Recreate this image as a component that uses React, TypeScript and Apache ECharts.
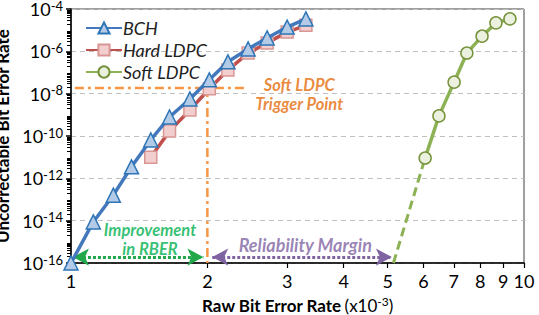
import React, { useEffect, useRef } from "react";
import * as echarts from "echarts";

const bchX = [1.0, 1.12, 1.24, 1.36, 1.5, 1.65, 1.83, 2.02, 2.22, 2.46, 2.71, 3.0, 3.3];
const bchY = [1e-16, 8.7e-15, 1.6e-13, 3.5e-12, 6.5e-11, 7.9e-10, 5.6e-9, 4.5e-8, 3.2e-7, 1.3e-6, 4.3e-6, 1.4e-5, 3.4e-5];
const hardX = [1.5, 1.65, 1.83, 2.02, 2.22, 2.46, 2.71, 3.0, 3.3];
const hardY = [1.0e-11, 1.7e-10, 1.7e-9, 1.7e-8, 1.3e-7, 8.3e-7, 2.5e-6, 8.1e-6, 1.7e-5];
const softX = [6.05, 6.49, 7.01, 7.48, 8.08, 8.67, 9.31];
const softY = [9.1e-12, 8.9e-10, 3.5e-8, 8.3e-7, 5.2e-6, 2.2e-5, 3.4e-5];
const softExtrapX = [5.15, 6.05];
const softExtrapY = [1e-16, 9.1e-12];

const xTicks = [1, 2, 3, 4, 5, 6, 7, 8, 9, 10];
const yMin = 1e-16;
const yMax = 1e-4;
const yMinorTicks: number[] = [];
for (let e = -16; e < -4; e++) for (let m = 2; m <= 9; m++) yMinorTicks.push(m * Math.pow(10, e));

const triggerX = 2;
const triggerY = 1.86e-8;
const triggerLineStartX = 1.02;
const triggerLineEndX = 2.45;
const arrowY = 1.9e-16;
const improvementRange = [1.01, 1.96];
const marginRange = [2.05, 5.11];

const FONT = "Lato, 'Open Sans', sans-serif";
const BLUE = "#4478BC";
const RED = "#C0504D";
const GREEN = "#8DB255";
const ORANGE = "#F79646";
const ORANGE_TEXT = "#E46C0A";
const GREEN_TEXT = "#00B050";
const PURPLE = "#8064A2";

const GRID_LEFT = 71;
const GRID_RIGHT = 15;
const WIDTH = 539;
const HEIGHT = 315;

function zip(xs: number[], ys: number[]) {
  return xs.map((x, i) => [x, ys[i]]);
}

export default function App() {
  const ref = useRef<HTMLDivElement>(null);
  useEffect(() => {
    if (!ref.current) return;
    document.body.style.margin = "0";
    const chart = echarts.init(ref.current, undefined, { renderer: "svg" });
    const labelSeries = (name: string, x: number, y: number, text: string, color: string, size: number) => ({
      name,
      type: "scatter",
      symbolSize: 0,
      silent: true,
      z: 20,
      data: [[x, y]],
      label: {
        show: true,
        position: "inside",
        formatter: text,
        color,
        fontFamily: FONT,
        fontSize: size,
        fontStyle: "italic",
        fontWeight: "bold",
        lineHeight: 19,
        align: "center",
        verticalAlign: "middle",
      },
    });
    chart.setOption({
      animation: false,
      backgroundColor: "#fff",
      textStyle: { fontFamily: FONT },
      grid: {
        left: GRID_LEFT,
        right: GRID_RIGHT,
        top: 9,
        bottom: 52,
        outerBoundsMode: "none",
        containLabel: false,
        show: true,
        borderColor: "#404040",
        borderWidth: 1,
      },
      legend: {
        orient: "vertical",
        left: 80,
        top: 14,
        itemWidth: 36,
        itemHeight: 14,
        itemGap: 4,
        data: ["BCH", "Hard LDPC", "Soft LDPC"],
        textStyle: { fontFamily: FONT, fontSize: 18, lineHeight: 16, fontStyle: "italic", color: "#222", padding: [0, 0, 0, -4] },
      },
      xAxis: {
        type: "log",
        logBase: 10,
        min: 1,
        max: 10,
        name: "{b|Raw Bit Error Rate} {n|(x10}{s|-3}{n|)}",
        nameLocation: "middle",
        nameGap: 32,
        nameTextStyle: {
          rich: {
            b: { fontFamily: FONT, fontSize: 17, fontWeight: "bold", color: "#000", lineHeight: 20 },
            n: { fontFamily: FONT, fontSize: 17, color: "#000", lineHeight: 20 },
            s: { fontFamily: FONT, fontSize: 12, color: "#000", verticalAlign: "top", lineHeight: 12 },
          },
        },
        axisLine: { show: true, lineStyle: { color: "#000", width: 1.5 } },
        axisTick: { show: true, length: 5, customValues: xTicks, lineStyle: { color: "#000", width: 1.2 } },
        axisLabel: {
          show: true,
          customValues: xTicks,
          fontFamily: FONT,
          fontSize: 18,
          color: "#000",
          margin: 9,
          formatter: (v: number) => String(Math.round(v)),
        },
        splitLine: { show: false },
        minorTick: { show: false },
      },
      yAxis: [
        {
          type: "log",
          logBase: 100,
          min: yMin,
          max: yMax,
          name: "Uncorrectable Bit Error Rate",
          nameLocation: "middle",
          nameRotate: 90,
          nameGap: 50,
          nameTextStyle: { fontFamily: FONT, fontSize: 17, fontWeight: "bold", color: "#000" },
          axisLine: { show: true, lineStyle: { color: "#000", width: 1.5 } },
          axisTick: { show: true, length: 5, lineStyle: { color: "#000", width: 1.5 } },
          axisLabel: {
            fontFamily: FONT,
            margin: 8,
            formatter: (v: number) => `{a|10}{b|${Math.round(Math.log10(v))}}`,
            rich: {
              a: { fontFamily: FONT, fontSize: 18, color: "#000", lineHeight: 20 },
              b: { fontFamily: FONT, fontSize: 13, color: "#000", verticalAlign: "top", lineHeight: 13 },
            },
          },
          splitLine: { show: true, lineStyle: { color: "#BFBFBF", type: [5, 4], width: 1 } },
        },
        {
          type: "log",
          logBase: 10,
          min: yMin,
          max: yMax,
          position: "right",
          offset: -(WIDTH - GRID_LEFT - GRID_RIGHT),
          axisLine: { show: false },
          axisLabel: { show: false },
          splitLine: { show: false },
          axisTick: { show: true, inside: true, length: 4, customValues: yMinorTicks, lineStyle: { color: "#000", width: 1 } },
        },
      ],
      series: [
        {
          name: "trigger-h",
          type: "line",
          data: zip([triggerLineStartX, triggerLineEndX], [triggerY, triggerY]),
          symbol: "none",
          lineStyle: { color: ORANGE, width: 2.5, type: [9, 4, 3, 4] },
          z: 1,
          silent: true,
        },
        {
          name: "trigger-v",
          type: "line",
          data: zip([triggerX, triggerX], [triggerY, yMin]),
          symbol: "none",
          lineStyle: { color: ORANGE, width: 2.5, type: [9, 4, 3, 4] },
          z: 1,
          silent: true,
        },
        {
          name: "soft-extrap",
          type: "line",
          data: zip(softExtrapX, softExtrapY),
          symbol: "none",
          lineStyle: { color: GREEN, width: 3, type: [9, 5] },
          z: 2,
          silent: true,
        },
        {
          name: "Hard LDPC",
          type: "line",
          data: zip(hardX, hardY),
          symbol: "rect",
          symbolSize: 12,
          lineStyle: { color: RED, width: 3.5 },
          itemStyle: { color: "#F2CFCE", borderColor: "#D99694", borderWidth: 1.5 },
          z: 4,
        },
        {
          name: "BCH",
          type: "line",
          data: zip(bchX, bchY),
          symbol: "triangle",
          symbolSize: 14,
          lineStyle: { color: BLUE, width: 3.5 },
          itemStyle: { color: "#B4CBE8", borderColor: "#2E75B6", borderWidth: 1.5 },
          z: 5,
        },
        {
          name: "Soft LDPC",
          type: "line",
          data: zip(softX, softY),
          symbol: "circle",
          symbolSize: 12,
          lineStyle: { color: GREEN, width: 3.5 },
          itemStyle: { color: "#EBF1DE", borderColor: "#77933C", borderWidth: 1.5 },
          z: 5,
        },
        {
          name: "arrows",
          type: "line",
          data: [],
          markLine: {
            silent: true,
            symbol: ["arrow", "arrow"],
            symbolSize: [13, 16],
            label: { show: false },
            data: [
              [
                { coord: [improvementRange[0], arrowY], lineStyle: { color: "#22A84A" }, itemStyle: { color: "#22A84A" } },
                { coord: [improvementRange[1], arrowY] },
              ],
              [
                { coord: [marginRange[0], arrowY], lineStyle: { color: PURPLE }, itemStyle: { color: PURPLE } },
                { coord: [marginRange[1], arrowY] },
              ],
            ],
            lineStyle: { type: [3, 2], width: 3 },
          },
        },
        labelSeries("lbl-trigger", 3.19, 8.7e-9, "Soft LDPC\nTrigger Point", ORANGE_TEXT, 16.5),
        labelSeries("lbl-improve", 1.494, 1.23e-15, "Improvement\nin RBER", GREEN_TEXT, 16.5),
        labelSeries("lbl-margin", 3.29, 7.1e-16, "Reliability Margin", PURPLE, 18),
      ],
    });
    return () => chart.dispose();
  }, []);
  return <div ref={ref} style={{ width: WIDTH, height: HEIGHT }} />;
}
